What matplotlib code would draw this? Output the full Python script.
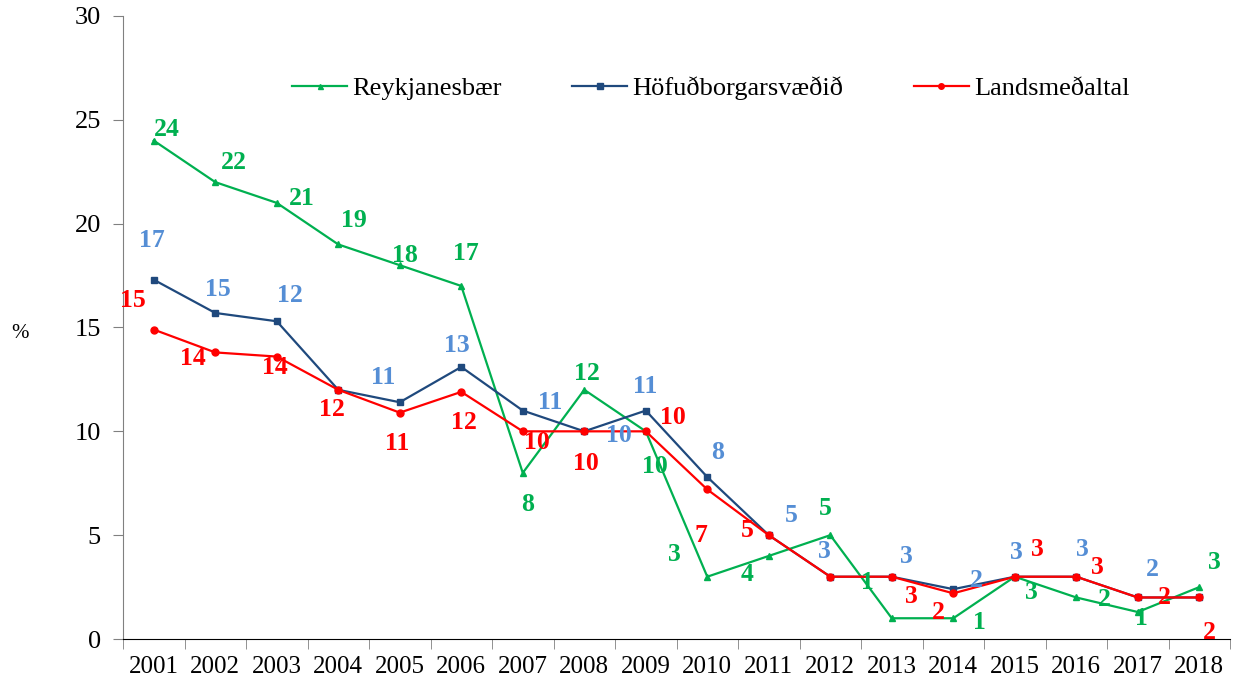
import matplotlib.pyplot as plt
import numpy as np

plt.rcParams['font.family'] = ['Liberation Serif', 'DejaVu Serif']

years = [str(y) for y in range(2001, 2019)]

reykjanesbaer = [24.0, 22.0, 21.0, 19.0, 18.0, 17.0, 8.0, 12.0, 10.0,
                 3.0, 4.0, 5.0, 1.0, 1.0, 3.0, 2.0, 1.3, 2.5]
hofudborg = [17.3, 15.7, 15.3, 12.0, 11.4, 13.1, 11.0, 10.0, 11.0,
             7.8, 5.0, 3.0, 3.0, 2.4, 3.0, 3.0, 2.0, 2.0]
landsmedaltal = [14.9, 13.8, 13.6, 12.0, 10.9, 11.9, 10.0, 10.0, 10.0,
                 7.2, 5.0, 3.0, 3.0, 2.2, 3.0, 3.0, 2.0, 2.0]

# data labels as printed in the original chart
labels_green = ["24", "22", "21", "19", "18", "17", "8", "12", "10",
                "3", "4", "5", "1", "1", "3", "2", "1", "3"]
labels_blue = ["17", "15", "12", "", "11", "13", "11", "10", "11",
               "8", "5", "3", "3", "2", "3", "3", "2", ""]
labels_red = ["15", "14", "14", "12", "11", "12", "10", "10", "10",
              "7", "5", "", "3", "2", "3", "3", "2", "2"]

# label offsets in pixels (dx, dy up)
off_green = [(13, 11), (19, 20), (25, 4), (16, 24), (5, 10), (5, 32), (5, -32),
             (3, 16), (9, -35), (-33, 22), (-22, -19), (-5, 27), (-24, 36),
             (26, -4), (17, -16), (28, -2), (4, -6), (15, 25)]
off_blue = [(-2, 39), (3, 23), (13, 26), (0, 0), (-17, 25), (-4, 21), (27, 8),
            (35, -4), (-1, 24), (10, 25), (23, 20), (-6, 25), (15, 20), (23, 9),
            (2, 24), (6, 27), (15, 28), (0, 0)]
off_red = [(-21, 29), (-22, -6), (-2, -11), (-6, -20), (-3, -31), (3, -31),
           (14, -11), (2, -32), (27, 14), (-6, -46), (-21, 5), (0, 0), (20, -20),
           (-15, -19), (23, 27), (21, 9), (27, 0), (10, -35)]

green = "#00B050"
navy = "#1F497D"
red = "#FF0000"
lblue = "#558ED5"

fig = plt.figure(figsize=(12.45, 6.83), dpi=100)
ax = fig.add_axes([0.0988, 0.0644, 0.8892, 0.9122])

x = np.arange(len(years))
ax.plot(x, reykjanesbaer, color=green, lw=1.6, marker="^", ms=4.5, label="Reykjanesbær")
ax.plot(x, hofudborg, color=navy, lw=1.6, marker="s", ms=5, label="Höfuðborgarsvæðið")
ax.plot(x, landsmedaltal, color=red, lw=1.6, marker="o", ms=5, label="Landsmeðaltal")

for vals, labs, offs, col in [(reykjanesbaer, labels_green, off_green, green),
                              (hofudborg, labels_blue, off_blue, lblue),
                              (landsmedaltal, labels_red, off_red, red)]:
    for i, (v, t, o) in enumerate(zip(vals, labs, offs)):
        if t:
            ax.annotate(t, (i, v), xytext=o, textcoords="offset pixels",
                        ha="center", va="center", color=col,
                        fontsize=18.5, fontweight="bold")

ax.set_xlim(-0.5, len(years) - 0.5)
ax.set_ylim(0, 30)
ax.set_yticks(np.arange(0, 31, 5))
ax.set_xticks(x)
ax.set_xticklabels(years)
ax.set_xticks(np.arange(-0.5, len(years), 1), minor=True)
ax.tick_params(axis="x", which="major", length=0, labelsize=18, pad=12)
ax.tick_params(axis="x", which="minor", length=7, direction="out", color="#808080")
ax.tick_params(axis="y", length=7, direction="out", labelsize=19, pad=9, color="#808080")

for s in ["top", "right"]:
    ax.spines[s].set_visible(False)
ax.spines["left"].set_color("#808080")
ax.spines["bottom"].set_color("black")

fig.text(0.016, 0.512, "%", fontsize=15, ha="center", va="center")

ax.legend(loc="center", bbox_to_anchor=(0.531, 0.884), ncol=3, frameon=False,
          fontsize=19, handlelength=2.1, handletextpad=0.2, columnspacing=2.65,
          markerscale=0.8)

fig.savefig("out.png", dpi=100)
